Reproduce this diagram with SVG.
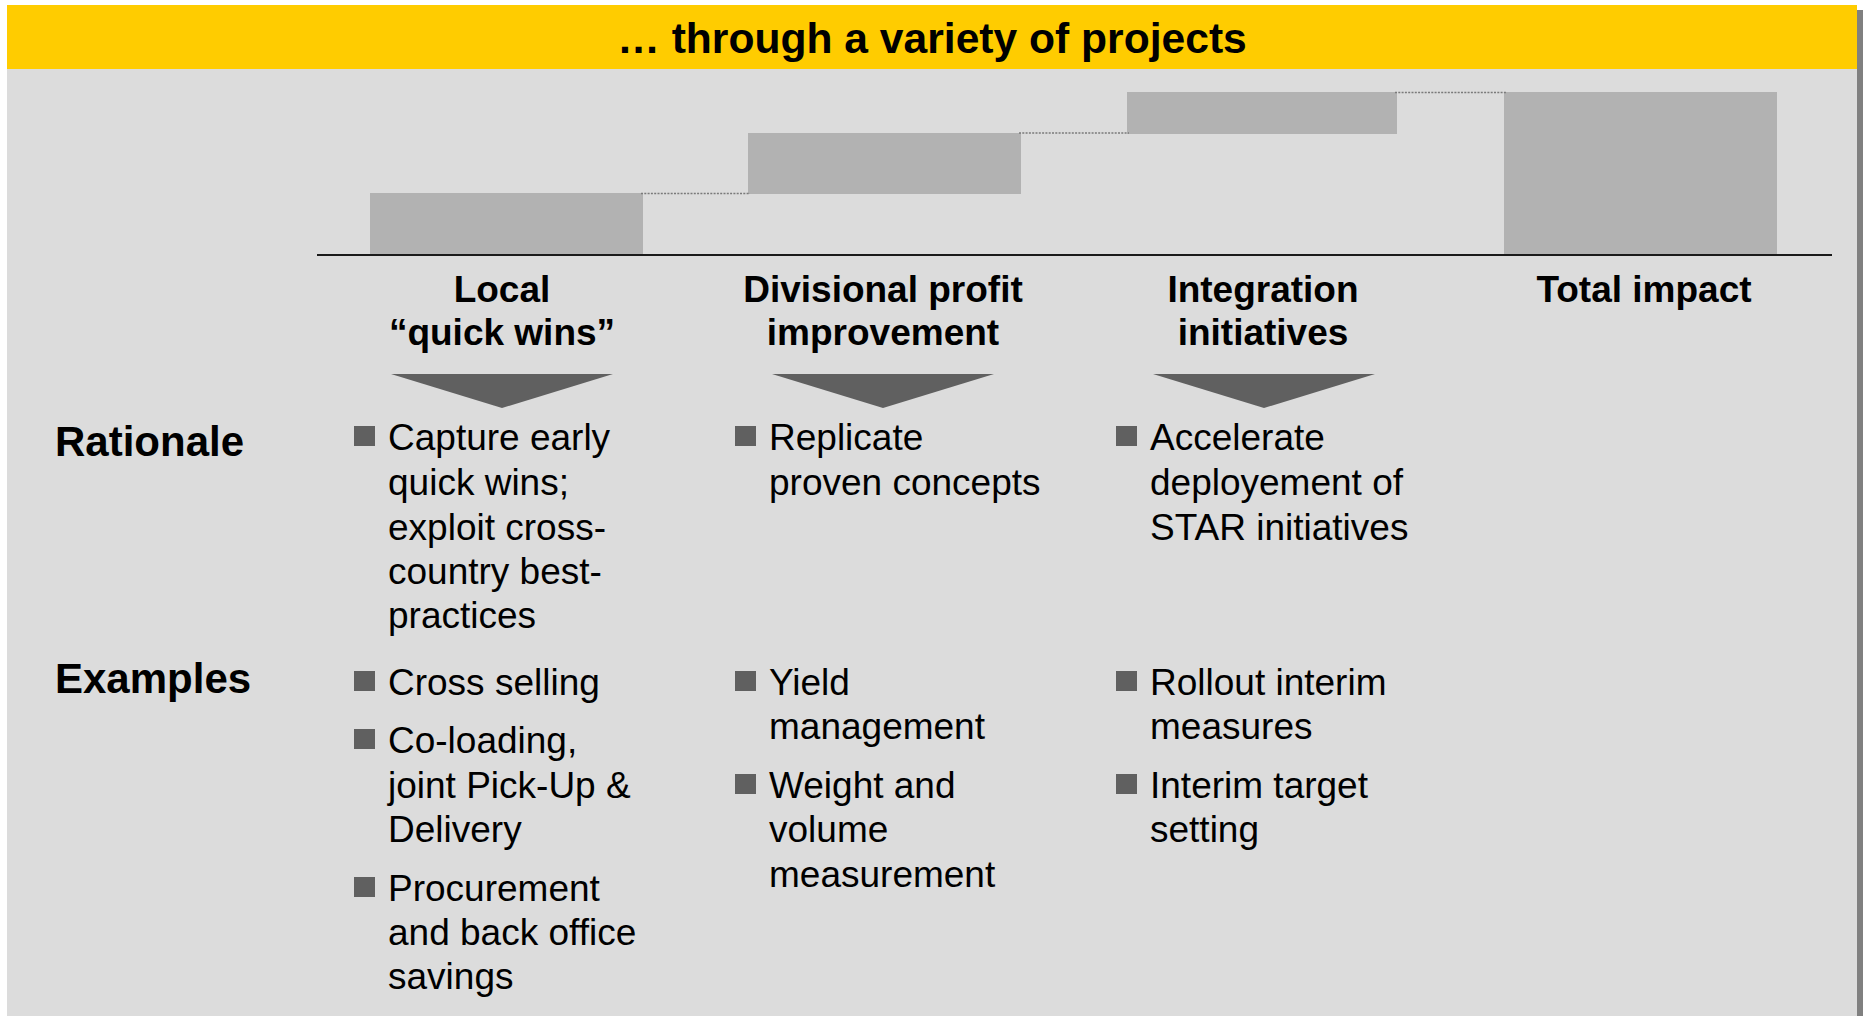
<svg xmlns="http://www.w3.org/2000/svg" width="1863" height="1016" viewBox="0 0 1863 1016">
  <style>
    .title { font-family: "Liberation Sans", Arial, sans-serif; font-weight: bold; font-size: 42.6px; fill: #000; }
    .rowlabel { font-family: "Liberation Sans", Arial, sans-serif; font-weight: bold; font-size: 42px; fill: #000; }
    .head { font-family: "Liberation Sans", Arial, sans-serif; font-weight: bold; font-size: 37px; fill: #000; text-anchor: middle; }
    .body { font-family: "Liberation Sans", Arial, sans-serif; font-size: 37px; fill: #000; }
    .bar { fill: #B2B2B2; }
    .bullet { fill: #606060; }
    .chevron { fill: #606060; }
    .link { stroke: #7A7A7A; stroke-width: 1.5; stroke-dasharray: 2 1.3; fill: none; }
  </style>
  <defs>
    <rect id="sq" width="21" height="20" class="bullet"/>
  </defs>

  <!-- page -->
  <rect x="0" y="0" width="1863" height="1016" fill="#FFFFFF"/>
  <rect x="1857" y="10" width="6" height="1006" fill="#808080"/>
  <rect x="7" y="5" width="1850" height="1011" fill="#DCDCDC"/>

  <!-- title banner -->
  <g id="banner">
    <rect x="7" y="5" width="1850" height="64" fill="#FFCC00"/>
    <text class="title" x="932" y="53" text-anchor="middle">… through a variety of projects</text>
  </g>

  <!-- waterfall chart -->
  <g id="chart">
    <rect id="bar-local" class="bar" x="370" y="193" width="273" height="62"/>
    <rect id="bar-divisional" class="bar" x="748" y="133" width="273" height="61"/>
    <rect id="bar-integration" class="bar" x="1127" y="92" width="270" height="42"/>
    <rect id="bar-total" class="bar" x="1504" y="92" width="273" height="163"/>
    <line x1="317" y1="255" x2="1832" y2="255" stroke="#1A1A1A" stroke-width="2"/>
  </g>

  <!-- step connectors between bars -->
  <g id="connectors">
    <line class="link" x1="641" y1="193.5" x2="750" y2="193.5"/>
    <line class="link" x1="1019" y1="133" x2="1129" y2="133"/>
    <line class="link" x1="1395" y1="92.5" x2="1506" y2="92.5"/>
  </g>

  <!-- column headers -->
  <g id="col-local">
    <text class="head" x="502" y="302">Local</text>
    <text class="head" x="502" y="345">“quick wins”</text>
    <polygon class="chevron" points="391,374 613,374 502,408"/>
  </g>
  <g id="col-divisional">
    <text class="head" x="883" y="302">Divisional profit</text>
    <text class="head" x="883" y="345">improvement</text>
    <polygon class="chevron" points="772,374 994,374 883,408"/>
  </g>
  <g id="col-integration">
    <text class="head" x="1263" y="302">Integration</text>
    <text class="head" x="1263" y="345">initiatives</text>
    <polygon class="chevron" points="1153,374 1375,374 1264,408"/>
  </g>
  <g id="col-total">
    <text class="head" x="1644" y="302">Total impact</text>
  </g>

  <!-- row labels -->
  <g id="label-rationale">
    <text class="rowlabel" x="55" y="456">Rationale</text>
  </g>
  <g id="label-examples">
    <text class="rowlabel" x="55" y="693">Examples</text>
  </g>

  <!-- rationale bullets -->
  <g id="rationale-local">
    <use href="#sq" x="354" y="426"/>
    <text class="body" x="388" y="450">Capture early</text>
    <text class="body" x="388" y="495">quick wins;</text>
    <text class="body" x="388" y="540">exploit cross-</text>
    <text class="body" x="388" y="584">country best-</text>
    <text class="body" x="388" y="628">practices</text>
  </g>
  <g id="rationale-divisional">
    <use href="#sq" x="735" y="426"/>
    <text class="body" x="769" y="450">Replicate</text>
    <text class="body" x="769" y="495">proven concepts</text>
  </g>
  <g id="rationale-integration">
    <use href="#sq" x="1116" y="426"/>
    <text class="body" x="1150" y="450">Accelerate</text>
    <text class="body" x="1150" y="495">deployement of</text>
    <text class="body" x="1150" y="540">STAR initiatives</text>
  </g>

  <!-- example bullets -->
  <g id="examples-local">
    <use href="#sq" x="354" y="671"/>
    <text class="body" x="388" y="695">Cross selling</text>
    <use href="#sq" x="354" y="729"/>
    <text class="body" x="388" y="753">Co-loading,</text>
    <text class="body" x="388" y="798">joint Pick-Up &amp;</text>
    <text class="body" x="388" y="842">Delivery</text>
    <use href="#sq" x="354" y="877"/>
    <text class="body" x="388" y="901">Procurement</text>
    <text class="body" x="388" y="945">and back office</text>
    <text class="body" x="388" y="989">savings</text>
  </g>
  <g id="examples-divisional">
    <use href="#sq" x="735" y="671"/>
    <text class="body" x="769" y="695">Yield</text>
    <text class="body" x="769" y="739">management</text>
    <use href="#sq" x="735" y="774"/>
    <text class="body" x="769" y="798">Weight and</text>
    <text class="body" x="769" y="842">volume</text>
    <text class="body" x="769" y="887">measurement</text>
  </g>
  <g id="examples-integration">
    <use href="#sq" x="1116" y="671"/>
    <text class="body" x="1150" y="695">Rollout interim</text>
    <text class="body" x="1150" y="739">measures</text>
    <use href="#sq" x="1116" y="774"/>
    <text class="body" x="1150" y="798">Interim target</text>
    <text class="body" x="1150" y="842">setting</text>
  </g>
</svg>
